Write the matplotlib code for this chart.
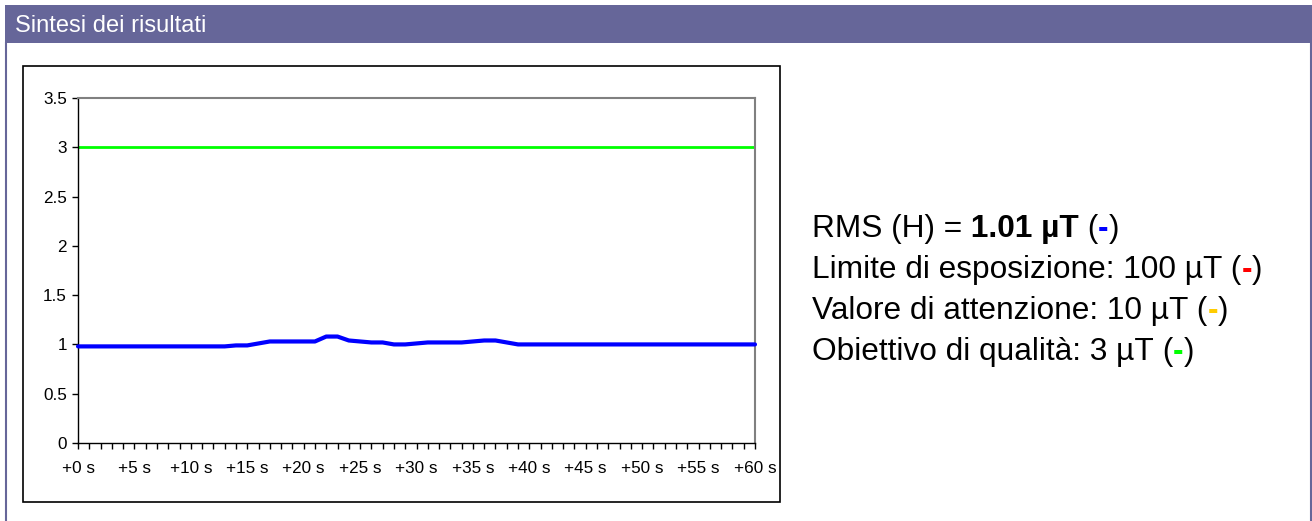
import numpy as np
import matplotlib
matplotlib.use('Agg')
import matplotlib.pyplot as plt
from matplotlib.patches import Rectangle
from matplotlib.lines import Line2D

plt.rcParams['font.family'] = ['Liberation Sans', 'DejaVu Sans']

# Data (one sample per second)
seconds = np.arange(0, 61)
field_ut = [0.98] * 14 + [0.99, 0.99, 1.01, 1.03, 1.03, 1.03, 1.03, 1.03,
                          1.08, 1.08, 1.04, 1.03, 1.02, 1.02, 1.00, 1.00,
                          1.01, 1.02, 1.02, 1.02, 1.02, 1.03, 1.04, 1.04,
                          1.02] + [1.00] * 22
tick_seconds = np.arange(0, 61, 5)
tick_labels = ['+%d s' % s for s in tick_seconds]
thresholds = [100, 10, 3]                       # exposure limit, attention value, quality goal
threshold_colors = ['#ff0000', '#ffcc00', '#00ff00']
rms_value = 1.01

header_col = '#666699'
W, H = 1312, 521

fig = plt.figure(figsize=(W / 100, H / 100), dpi=100)


def fx(px):
    return px / W


def fy(py):
    return 1 - py / H


# Header bar and panel border
fig.patches.append(Rectangle((fx(5), fy(43)), fx(1307), 38 / H, transform=fig.transFigure,
                             facecolor=header_col, edgecolor='none', zorder=0))
fig.lines.append(Line2D([fx(6), fx(6)], [0, fy(43)], transform=fig.transFigure,
                        color=header_col, lw=1.5))
fig.lines.append(Line2D([fx(1311), fx(1311)], [0, fy(43)], transform=fig.transFigure,
                        color=header_col, lw=1.5))
fig.text(fx(15), fy(26), 'Sintesi dei risultati', color='white', fontsize=17,
         va='center', ha='left')

# Chart box
fig.patches.append(Rectangle((fx(23), fy(502)), fx(757), 436 / H, transform=fig.transFigure,
                             facecolor='white', edgecolor='black', lw=1.2, zorder=0))

ax = fig.add_axes([fx(78), fy(443), fx(677), 345 / H])
ax.set_zorder(2)
ax.set_facecolor('white')

for val, col in zip(thresholds, threshold_colors):
    ax.axhline(val, color=col, lw=2, zorder=2)
ax.plot(seconds, field_ut, color='#0000ff', lw=3, solid_capstyle='round',
        clip_on=False, zorder=3)

ax.set_xlim(0, 60)
ax.set_ylim(0, 3.5)
ax.set_yticks([0, 0.5, 1, 1.5, 2, 2.5, 3, 3.5])
ax.set_yticklabels(['0', '0.5', '1', '1.5', '2', '2.5', '3', '3.5'])
ax.set_xticks(tick_seconds)
ax.set_xticklabels(tick_labels)
ax.set_xticks(seconds, minor=True)
ax.tick_params(axis='both', which='both', direction='out', length=4, width=1,
               labelsize=12.3, color='black')
ax.tick_params(axis='x', which='both', pad=9)
ax.tick_params(axis='y', pad=4)

for side in ['top', 'right']:
    ax.spines[side].set_color('#808080')
    ax.spines[side].set_linewidth(1.5)
for side in ['left', 'bottom']:
    ax.spines[side].set_color('black')
    ax.spines[side].set_linewidth(1)


# Summary text with mixed weights and coloured markers
def rich_line(x, y, parts, size=22.8):
    s, c, w = parts[0]
    t = ax.text(x, y, s, transform=fig.transFigure, color=c, weight=w,
                fontsize=size, ha='left', va='baseline')
    for s, c, w in parts[1:]:
        t = ax.annotate(s, xy=(1, 0), xycoords=t, color=c, weight=w,
                        fontsize=size, ha='left', va='bottom', annotation_clip=False)


lines = [
    [('RMS (H) =', 'black', 'normal'), (' %.2f µT' % rms_value, 'black', 'bold'),
     (' (', 'black', 'normal'), ('-', '#0000ff', 'bold'), (')', 'black', 'normal')],
    [('Limite di esposizione: %d µT' % thresholds[0], 'black', 'normal'),
     (' (', 'black', 'normal'), ('-', threshold_colors[0], 'bold'), (')', 'black', 'normal')],
    [('Valore di attenzione: %d µT' % thresholds[1], 'black', 'normal'),
     (' (', 'black', 'normal'), ('-', threshold_colors[1], 'bold'), (')', 'black', 'normal')],
    [('Obiettivo di qualità: %d µT' % thresholds[2], 'black', 'normal'),
     (' (', 'black', 'normal'), ('-', threshold_colors[2], 'bold'), (')', 'black', 'normal')],
]
for i, parts in enumerate(lines):
    rich_line(fx(812), fy(237 + 41 * i), parts)

plt.savefig('out.png', dpi=100)
